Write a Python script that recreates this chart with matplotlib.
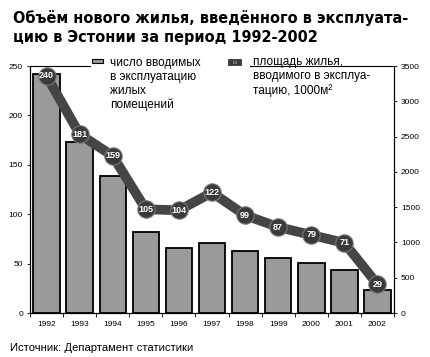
import matplotlib
matplotlib.use('Agg')
import matplotlib.pyplot as plt
import numpy as np

years = ['1992', '1993', '1994', '1995', '1996', '1997', '1998', '1999', '2000', '2001', '2002']
dwellings = [3390, 2420, 1940, 1145, 925, 995, 875, 775, 715, 615, 325]
area = [240, 181, 159, 105, 104, 122, 99, 87, 79, 71, 29]

title = 'Объём нового жилья, введённого в эксплуата-\nцию в Эстонии за период 1992-2002'
legend_bars = 'число вводимых\nв эксплуатацию\nжилых\nпомещений'
legend_line = 'площадь жилья,\nвводимого в эксплуа-\nтацию, 1000м²'
source = 'Источник: Департамент статистики'

plt.rcParams['font.family'] = ['Liberation Sans', 'DejaVu Sans']

fig = plt.figure(figsize=(4.3, 3.57), dpi=100)
ax = fig.add_axes([0.0698, 0.1232, 0.8465, 0.6918])
x = np.arange(len(years))

# bars on the right scale
ax.bar(x, dwellings, width=0.8, color='#9a9a9a', edgecolor='black', linewidth=1.3, zorder=2)
ax.set_ylim(0, 3500)
ax.set_xlim(-0.5, len(years) - 0.5)
ax.set_yticks(range(0, 3501, 500))
ax.set_xticks(x)
ax.set_xticklabels(years)
ax.tick_params(axis='x', length=0, labelsize=6, pad=6)
ax.set_xticks(np.arange(-0.5, len(years), 1), minor=True)
ax.tick_params(axis='x', which='minor', length=3, width=0.6)
ax.spines['top'].set_visible(False)
for s in ['left', 'right', 'bottom']:
    ax.spines[s].set_linewidth(0.8)

# line on the left scale
ax2 = ax.twinx()
ax.yaxis.tick_right()
ax.tick_params(axis='y', labelsize=6, length=2, width=0.6, pad=3)
ax2.yaxis.tick_left()
ax2.set_ylim(0, 250)
ax2.set_yticks(range(0, 251, 50))
ax2.tick_params(axis='y', labelsize=6, length=2, width=0.6, pad=3)
ax2.spines['top'].set_visible(False)
ax2.plot(x, area, color='#454545', linewidth=7, solid_joinstyle='round',
         solid_capstyle='round', zorder=3)
ax2.plot(x, area, 'o', markersize=12.5, color='#3a3a3a', markeredgecolor='#777777',
         markeredgewidth=0.8, zorder=4)
for xi, v in zip(x, area):
    ax2.text(xi, v, str(v), ha='center', va='center', color='white',
             fontsize=6.5, fontweight='bold', zorder=5)

# partial top frame line
ax2.plot([0, 0.165], [1, 1], transform=ax2.transAxes, color='black', lw=0.8, clip_on=False)
ax2.plot([0.605, 1], [1, 1], transform=ax2.transAxes, color='black', lw=0.8, clip_on=False)

# legend
fig.patches.append(plt.Rectangle((92 / 430, 1 - 63 / 357), 11 / 430, 4 / 357,
                                 transform=fig.transFigure, facecolor='#9a9a9a',
                                 edgecolor='black', linewidth=0.8))
fig.text(110 / 430, 1 - 57 / 357, legend_bars, fontsize=8.5, va='top', ha='left',
         linespacing=1.2)
fig.patches.append(plt.Rectangle((228 / 430, 1 - 65 / 357), 13 / 430, 6 / 357,
                                 transform=fig.transFigure, facecolor='#3a3a3a',
                                 edgecolor='#3a3a3a', linewidth=0.6))
fig.patches.append(plt.Rectangle((233 / 430, 1 - 63 / 357), 3 / 430, 2 / 357,
                                 transform=fig.transFigure, facecolor='#3a3a3a',
                                 edgecolor='#999999', linewidth=0.5))
fig.text(253 / 430, 1 - 56 / 357, legend_line, fontsize=8.5, va='top', ha='left',
         linespacing=1.2)

fig.text(13 / 430, 1 - 10 / 357, title, fontsize=11.6, fontweight='bold', va='top',
         ha='left', family='DejaVu Sans', fontstretch='condensed', linespacing=1.3)
fig.text(10 / 430, 1 - 353 / 357, source, fontsize=8.1, va='bottom', ha='left')

fig.savefig('out.png', dpi=100)
